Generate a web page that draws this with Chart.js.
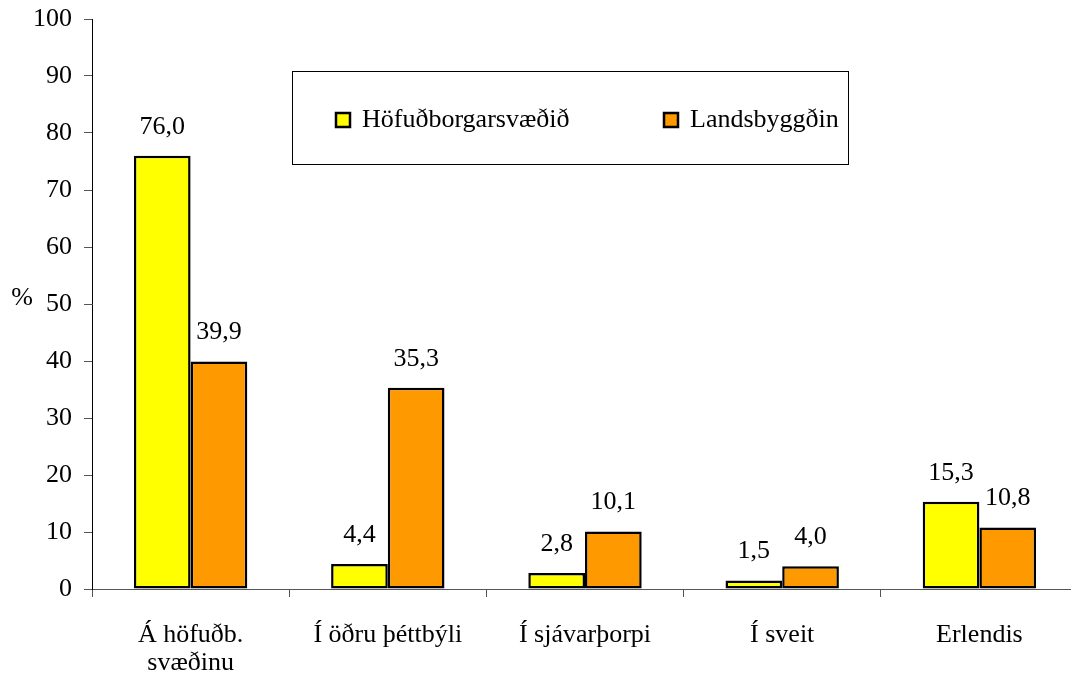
<!DOCTYPE html>
<html>
<head>
<meta charset="utf-8">
<script src="https://cdn.jsdelivr.net/npm/chart.js@4"></script>
<style>
  html, body { margin: 0; padding: 0; background: #fff; overflow: hidden; }
  #wrap { width: 1080px; height: 678px; }
</style>
</head>
<body>
<div id="wrap"><canvas id="chart" width="1080" height="678"></canvas></div>
<script>
// Data
const categories = [['Á höfuðb.', 'svæðinu'], 'Í öðru þéttbýli', 'Í sjávarþorpi', 'Í sveit', 'Erlendis'];
const seriesNames = ['Höfuðborgarsvæðið', 'Landsbyggðin'];
const capitalValues = [76.0, 4.4, 2.8, 1.5, 15.3];
const ruralValues = [39.9, 35.3, 10.1, 4.0, 10.8];
const yTicks = [0, 10, 20, 30, 40, 50, 60, 70, 80, 90, 100];

const FONT = '"Liberation Serif", "Times New Roman", serif';
const colors = ['#FFFF00', '#FF9900'];

// Value labels above each bar, comma decimal
const valueLabels = {
  id: 'valueLabels',
  afterDatasetsDraw(chart) {
    const ctx = chart.ctx;
    ctx.save();
    ctx.font = '26px ' + FONT;
    ctx.fillStyle = '#000';
    ctx.textAlign = 'center';
    ctx.textBaseline = 'middle';
    chart.data.datasets.forEach((ds, i) => {
      chart.getDatasetMeta(i).data.forEach((bar, j) => {
        const txt = ds.data[j].toFixed(1).replace('.', ',');
        ctx.fillText(txt, bar.x, bar.y - 29);
      });
    });
    ctx.restore();
  }
};

// Boxed legend inside the plot + "%" axis title
const boxLegend = {
  id: 'boxLegend',
  afterDraw(chart) {
    const ctx = chart.ctx;
    ctx.save();
    ctx.strokeStyle = '#000';
    ctx.lineWidth = 1;
    ctx.strokeRect(292.5, 71.5, 556, 93);

    const items = [{ x: 336 }, { x: 664 }];
    ctx.font = '26px ' + FONT;
    ctx.textBaseline = 'middle';
    ctx.textAlign = 'left';
    chart.data.datasets.forEach((ds, i) => {
      const x = items[i].x;
      ctx.fillStyle = ds.backgroundColor;
      ctx.fillRect(x, 113, 14, 14);
      ctx.lineWidth = 2.5;
      ctx.strokeStyle = '#000';
      ctx.strokeRect(x, 113, 14, 14);
      ctx.fillStyle = '#000';
      ctx.fillText(ds.label, x + 26, 120);
    });

    ctx.textAlign = 'center';
    ctx.fillText('%', 22, 298);
    ctx.restore();
  }
};

new Chart(document.getElementById('chart'), {
  type: 'bar',
  data: {
    labels: categories,
    datasets: [
      { label: seriesNames[0], data: capitalValues, backgroundColor: colors[0], borderColor: '#000', borderWidth: 2.5, borderSkipped: false },
      { label: seriesNames[1], data: ruralValues, backgroundColor: colors[1], borderColor: '#000', borderWidth: 2.5, borderSkipped: false }
    ]
  },
  options: {
    responsive: false,
    animation: false,
    layout: { padding: { top: 19, right: 2, left: 0, bottom: 0 } },
    datasets: { bar: { barPercentage: 1.0, categoryPercentage: 0.575 } },
    plugins: { legend: { display: false }, tooltip: { enabled: false } },
    scales: {
      x: {
        grid: { drawOnChartArea: false, drawTicks: true, tickLength: 8, color: '#555', offset: true },
        border: { color: '#555', width: 1 },
        ticks: { color: '#000', font: { family: FONT, size: 26, lineHeight: 1.08 }, padding: 24, maxRotation: 0, autoSkip: false },
        afterFit(scale) {
          scale.height = 89;
          scale.paddingLeft = 0;
          scale.paddingRight = 0;
        }
      },
      y: {
        min: 0,
        max: 100,
        afterBuildTicks(scale) { scale.ticks = yTicks.map(v => ({ value: v })); },
        grid: { drawOnChartArea: false, drawTicks: true, tickLength: 8, color: '#555' },
        border: { color: '#000', width: 1 },
        ticks: { color: '#000', font: { family: FONT, size: 26 }, padding: 12 },
        afterFit(scale) {
          scale.width = 92;
          scale.paddingTop = 0;
          scale.paddingBottom = 0;
        }
      }
    }
  },
  plugins: [valueLabels, boxLegend]
});
</script>
</body>
</html>
